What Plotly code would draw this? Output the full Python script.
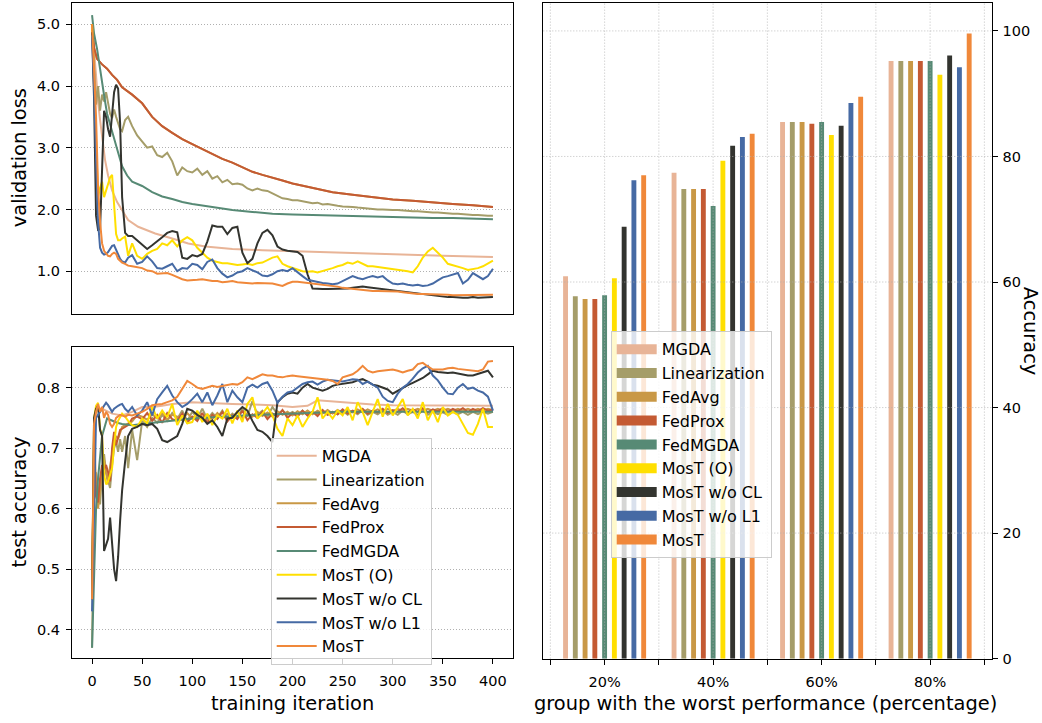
import plotly.graph_objects as go

# ---------------------------------------------------------------------------
# Methods, colours
# ---------------------------------------------------------------------------
METHODS = ["MGDA", "Linearization", "FedAvg", "FedProx", "FedMGDA",
           "MosT (O)", "MosT w/o CL", "MosT w/o L1", "MosT"]
COLORS = ["#e8b497", "#a59d69", "#c99846", "#c45a33", "#578a75",
          "#ffdf00", "#33342f", "#466aa4", "#f0883a"]

# ---------------------------------------------------------------------------
# Training curves (iteration grid shared by the noisier series)
# ---------------------------------------------------------------------------
ITERS = [0, 2, 4, 6, 8, 10, 12, 14, 16, 18, 20, 22, 24, 26, 28, 30, 33, 36] + list(range(40, 401, 5))

# validation loss
MGDA_LOSS_X = [0, 2, 4, 6, 8, 10, 13, 16, 20, 25, 30, 36, 46, 63, 80, 96, 113, 140, 170, 207, 250, 306, 350, 400]
MGDA_LOSS = [5.0, 4.6, 4.1, 3.75, 3.45, 3.15, 2.8, 2.55, 2.31, 2.12, 1.99, 1.83, 1.72, 1.61, 1.53, 1.45,
             1.40, 1.36, 1.34, 1.32, 1.30, 1.27, 1.25, 1.23]

LIN_LOSS = [5.0, 4.3, 3.7, 4.0, 3.6, 3.86, 3.75, 3.9, 3.75, 3.55, 3.48, 3.62, 3.5, 3.4, 3.3, 3.27, 3.45, 3.5,
            3.35, 3.2, 3.1, 3.0, 3.02, 2.88, 2.85, 2.92, 2.78, 2.55,
            2.68, 2.62, 2.6, 2.66, 2.56, 2.62, 2.5, 2.54, 2.44, 2.48,
            2.41, 2.42, 2.4, 2.34, 2.31, 2.34, 2.31, 2.3, 2.26, 2.22,
            2.18, 2.17, 2.15, 2.15, 2.13, 2.12, 2.1, 2.11, 2.08, 2.09,
            2.07, 2.06, 2.05, 2.05, 2.04, 2.03, 2.02, 2.01, 2.01, 2.0,
            2.0, 1.99, 1.99, 1.99, 1.98, 1.98, 1.97, 1.97, 1.96, 1.96,
            1.95, 1.95, 1.94, 1.94, 1.93, 1.93, 1.92, 1.91, 1.91, 1.91,
            1.9, 1.9, 1.9]

FEDPROX_LOSS_X = [0, 2, 5, 10, 15, 20, 25, 30, 40, 50, 60, 70, 80, 90, 100, 110, 120, 130, 140, 150, 160,
                  170, 180, 190, 200, 220, 240, 260, 280, 300, 320, 340, 360, 380, 400]
FEDPROX_LOSS = [5.0, 4.62, 4.44, 4.35, 4.28, 4.18, 4.1, 3.98, 3.86, 3.72, 3.5, 3.35, 3.24, 3.14, 3.06,
                2.98, 2.9, 2.82, 2.76, 2.68, 2.61, 2.56, 2.52, 2.47, 2.42, 2.35, 2.28, 2.24, 2.2, 2.16,
                2.14, 2.11, 2.09, 2.07, 2.04]
FEDAVG_LOSS_X = FEDPROX_LOSS_X
FEDAVG_LOSS = [5.0, 4.62, 4.44, 4.35, 4.28, 4.18, 4.1, 3.98, 3.86, 3.72, 3.5, 3.35, 3.24, 3.14, 3.06,
               2.98, 2.9, 2.82, 2.76, 2.68, 2.61, 2.56, 2.52, 2.47, 2.42, 2.35, 2.28, 2.24, 2.2, 2.16,
               2.14, 2.11, 2.09, 2.07, 2.04]

FEDMGDA_LOSS_X = [0, 2, 5, 8, 10, 12, 15, 20, 25, 30, 35, 40, 50, 60, 70, 80, 90, 100, 120, 140, 160, 180,
                  200, 220, 240, 260, 280, 300, 320, 340, 360, 380, 400]
FEDMGDA_LOSS = [5.15, 4.85, 4.6, 4.25, 4.07, 3.85, 3.55, 3.25, 2.98, 2.7, 2.55, 2.45, 2.38, 2.28, 2.21,
                2.17, 2.12, 2.09, 2.04, 1.99, 1.96, 1.93, 1.92, 1.91, 1.9, 1.89, 1.88, 1.88, 1.87, 1.86,
                1.86, 1.85, 1.84]

MOSTO_LOSS = [5.0, 4.0, 2.9, 2.2, 2.35, 2.45, 2.2, 2.3, 2.42, 2.52, 2.56, 1.99, 1.6, 1.5, 1.5, 1.53, 1.56, 1.25,
              1.45, 1.25, 1.2, 1.28, 1.33, 1.36, 1.45, 1.42, 1.5, 1.4,
              1.5, 1.55, 1.5, 1.38, 1.3, 1.22, 1.17, 1.15, 1.13, 1.13,
              1.12, 1.1, 1.11, 1.12, 1.1, 1.13, 1.14, 1.18, 1.22, 1.24,
              1.12, 1.08, 1.05, 1.02, 1.0, 0.99, 1.0, 0.98, 1.0, 1.03,
              1.05, 1.08, 1.1, 1.14, 1.12, 1.16, 1.12, 1.08, 1.08, 1.07,
              1.06, 1.05, 1.04, 1.03, 1.02, 1.0, 0.98, 1.08, 1.22, 1.32,
              1.38, 1.3, 1.22, 1.12, 1.1, 1.08, 1.05, 1.02, 1.03, 1.05,
              1.08, 1.12, 1.17]

WOCL_LOSS = [4.87, 3.8, 1.9, 1.67, 1.68, 2.8, 3.6, 3.5, 3.3, 3.18, 3.5, 3.9, 4.02, 3.96, 3.4, 2.2, 1.62, 1.57,
             1.57, 1.5, 1.42, 1.36, 1.42, 1.48, 1.55, 1.62, 1.65, 1.63,
             1.22, 1.2, 1.26, 1.24, 1.28, 1.48, 1.74, 1.72, 1.72, 1.6,
             1.7, 1.72, 1.3, 1.13, 1.2, 1.45, 1.62, 1.67, 1.58, 1.4,
             1.35, 1.33, 1.32, 1.31, 1.25, 0.95, 0.72, 0.71, 0.71, 0.71,
             0.71, 0.71, 0.72, 0.72, 0.73, 0.74, 0.75, 0.74, 0.73, 0.72,
             0.71, 0.7, 0.68, 0.67, 0.66, 0.65, 0.64, 0.63, 0.62, 0.62,
             0.6, 0.59, 0.58, 0.58, 0.58, 0.57, 0.57, 0.57, 0.58, 0.57,
             0.57, 0.57, 0.58]

WOL1_LOSS = [4.82, 4.0, 2.8, 1.8, 1.38, 1.3, 1.27, 1.28, 1.31, 1.36, 1.41, 1.42, 1.35, 1.26, 1.2, 1.16, 1.14, 1.22,
             1.26, 1.12, 1.15, 1.24, 1.16, 1.05, 1.04, 1.08, 1.12, 1.0,
             1.05, 1.04, 1.12, 1.1, 1.03, 1.15, 1.19, 1.05, 0.96, 0.9,
             0.93, 0.98, 1.0, 1.05, 1.02, 0.98, 0.93, 0.92, 0.95, 1.0,
             1.02, 1.0, 1.05, 0.98, 0.92, 0.86, 0.84, 0.83, 0.81, 0.8,
             0.79, 0.8, 0.84, 0.88, 0.92, 0.89, 0.87, 0.9, 0.92, 0.9,
             0.92, 0.85, 0.8, 0.79, 0.8, 0.78, 0.77, 0.78, 0.76, 0.77,
             0.8, 0.85, 0.9, 0.92, 0.95, 0.97, 0.8, 0.86, 0.97, 0.92,
             0.87, 0.92, 1.04]

MOST_LOSS = [5.0, 4.3, 3.5, 2.36, 1.8, 1.45, 1.33, 1.29, 1.25, 1.24, 1.28, 1.3, 1.28, 1.2, 1.17, 1.14, 1.12, 1.09,
             1.08, 1.06, 1.05, 1.01, 1.0, 0.96, 0.96, 0.97, 0.94, 0.9,
             0.87, 0.85, 0.85, 0.86, 0.87, 0.85, 0.84, 0.84, 0.82, 0.83,
             0.84, 0.82, 0.81, 0.81, 0.8, 0.81, 0.81, 0.8, 0.8, 0.78,
             0.76, 0.8, 0.83, 0.83, 0.82, 0.81, 0.81, 0.8, 0.79, 0.78,
             0.76, 0.75, 0.73, 0.72, 0.71, 0.71, 0.7, 0.69, 0.68, 0.68,
             0.68, 0.68, 0.68, 0.67, 0.66, 0.65, 0.63, 0.63, 0.63, 0.63,
             0.63, 0.62, 0.62, 0.62, 0.61, 0.61, 0.61, 0.61, 0.61, 0.62,
             0.62, 0.62, 0.62]

# test accuracy
MGDA_ACC_X = [0, 2, 4, 6, 10, 20, 30, 40, 50, 60, 70, 80, 100, 120, 140, 160, 180, 200, 215, 225, 240, 260,
              280, 300, 350, 400]
MGDA_ACC = [0.45, 0.72, 0.76, 0.765, 0.765, 0.757, 0.754, 0.76, 0.768, 0.768, 0.77, 0.773, 0.776, 0.774,
            0.773, 0.772, 0.771, 0.768, 0.77, 0.779, 0.777, 0.774, 0.772, 0.771, 0.771, 0.77]

LIN_ACC = [0.37, 0.65, 0.66, 0.63, 0.607, 0.66, 0.69, 0.66, 0.645, 0.634, 0.672, 0.7, 0.71, 0.694, 0.715, 0.694, 0.72, 0.667,
           0.73, 0.68, 0.745, 0.735, 0.75, 0.742, 0.755, 0.745, 0.758, 0.748,
           0.762, 0.745, 0.76, 0.75, 0.765, 0.748, 0.758, 0.75, 0.762, 0.748,
           0.757, 0.75, 0.765, 0.752, 0.778, 0.755, 0.762, 0.752, 0.768, 0.756,
           0.762, 0.755, 0.76, 0.755, 0.762, 0.754, 0.76, 0.756, 0.762, 0.755,
           0.76, 0.756, 0.762, 0.755, 0.761, 0.756, 0.763, 0.755, 0.76, 0.756,
           0.762, 0.755, 0.76, 0.755, 0.762, 0.756, 0.76, 0.755, 0.762, 0.755,
           0.76, 0.756, 0.759, 0.755, 0.76, 0.756, 0.76, 0.755, 0.76, 0.756,
           0.76, 0.757, 0.76]

FEDAVG_ACC = [0.45, 0.72, 0.64, 0.6, 0.63, 0.66, 0.68, 0.66, 0.64, 0.67, 0.69, 0.71, 0.72, 0.715, 0.725, 0.735, 0.738, 0.74,
              0.744, 0.755, 0.752, 0.747, 0.756, 0.749, 0.758, 0.747, 0.755, 0.752,
              0.746, 0.758, 0.749, 0.757, 0.75, 0.755, 0.748, 0.758, 0.75, 0.757,
              0.752, 0.759, 0.75, 0.758, 0.752, 0.76, 0.753, 0.759, 0.752, 0.761,
              0.755, 0.76, 0.754, 0.761, 0.756, 0.762, 0.756, 0.762, 0.757, 0.763,
              0.757, 0.763, 0.758, 0.763, 0.759, 0.764, 0.759, 0.764, 0.76, 0.764,
              0.76, 0.765, 0.761, 0.765, 0.761, 0.765, 0.762, 0.765, 0.762, 0.765,
              0.762, 0.765, 0.762, 0.765, 0.762, 0.765, 0.762, 0.765, 0.762, 0.765,
              0.762, 0.765, 0.763]

FEDPROX_ACC = [0.45, 0.7, 0.62, 0.61, 0.65, 0.672, 0.665, 0.672, 0.66, 0.645, 0.7, 0.727, 0.705, 0.72, 0.73, 0.732, 0.735, 0.738,
               0.749, 0.752, 0.748, 0.758, 0.745, 0.755, 0.742, 0.758, 0.748, 0.745,
               0.757, 0.742, 0.752, 0.745, 0.758, 0.742, 0.755, 0.748, 0.76, 0.744,
               0.754, 0.748, 0.762, 0.746, 0.756, 0.75, 0.76, 0.748, 0.757, 0.752,
               0.763, 0.75, 0.758, 0.752, 0.762, 0.754, 0.76, 0.753, 0.763, 0.755,
               0.76, 0.756, 0.764, 0.757, 0.762, 0.758, 0.765, 0.757, 0.762, 0.759,
               0.765, 0.758, 0.763, 0.76, 0.766, 0.759, 0.764, 0.76, 0.766, 0.759,
               0.764, 0.761, 0.766, 0.76, 0.765, 0.761, 0.766, 0.76, 0.765, 0.761,
               0.766, 0.762, 0.764]

FEDMGDA_ACC_X = [0, 2, 4, 6, 8, 10, 15, 20, 25, 30, 40, 50, 60, 80, 100, 150, 200, 250, 300, 350, 400]
FEDMGDA_ACC = [0.37, 0.5, 0.6, 0.65, 0.69, 0.72, 0.749, 0.745, 0.742, 0.74, 0.738, 0.74, 0.742, 0.745,
               0.749, 0.754, 0.757, 0.76, 0.76, 0.76, 0.76]

MOSTO_ACC = [0.45, 0.75, 0.77, 0.775, 0.732, 0.72, 0.656, 0.64, 0.645, 0.655, 0.667, 0.705, 0.735, 0.745, 0.75, 0.757, 0.752, 0.745,
             0.738, 0.735, 0.749, 0.741, 0.768, 0.749, 0.762, 0.751, 0.773, 0.738,
             0.754, 0.741, 0.743, 0.762, 0.743, 0.757, 0.738, 0.754, 0.749, 0.765,
             0.741, 0.762, 0.743, 0.773, 0.784, 0.749, 0.757, 0.768, 0.754, 0.732,
             0.72, 0.749, 0.738, 0.754, 0.735, 0.749, 0.76, 0.784, 0.749, 0.76,
             0.749, 0.762, 0.754, 0.768, 0.746, 0.776, 0.76, 0.738, 0.76, 0.781,
             0.752, 0.773, 0.754, 0.768, 0.781, 0.754, 0.765, 0.749, 0.776, 0.746,
             0.762, 0.743, 0.768, 0.754, 0.76, 0.755, 0.74, 0.725, 0.722, 0.74,
             0.765, 0.735, 0.735]

WOCL_ACC = [0.45, 0.75, 0.765, 0.77, 0.73, 0.72, 0.53, 0.54, 0.55, 0.585, 0.54, 0.5, 0.48, 0.52, 0.58, 0.63, 0.678, 0.72,
            0.732, 0.735, 0.74, 0.738, 0.74, 0.732, 0.713, 0.71, 0.715, 0.72,
            0.74, 0.765, 0.762, 0.755, 0.75, 0.74, 0.746, 0.735, 0.72, 0.749,
            0.75, 0.76, 0.768, 0.762, 0.745, 0.73, 0.727, 0.72, 0.71, 0.776,
            0.784, 0.79, 0.792, 0.79, 0.8, 0.806, 0.8, 0.798, 0.795, 0.798,
            0.803, 0.805, 0.806, 0.808, 0.809, 0.812, 0.814, 0.81, 0.805, 0.803,
            0.8, 0.797, 0.79, 0.795, 0.8, 0.804, 0.808, 0.812, 0.816, 0.822,
            0.828, 0.826, 0.825, 0.824, 0.825, 0.823, 0.822, 0.82, 0.82, 0.823,
            0.825, 0.828, 0.817]

WOL1_ACC = [0.43, 0.6, 0.75, 0.755, 0.76, 0.765, 0.77, 0.775, 0.771, 0.765, 0.76, 0.765, 0.768, 0.77, 0.772, 0.773, 0.765, 0.76,
            0.768, 0.754, 0.762, 0.776, 0.754, 0.781, 0.792, 0.803, 0.787, 0.776,
            0.768, 0.773, 0.781, 0.79, 0.776, 0.792, 0.771, 0.787, 0.806, 0.776,
            0.795, 0.784, 0.776, 0.8, 0.805, 0.8, 0.806, 0.809, 0.795, 0.775,
            0.785, 0.792, 0.794, 0.8, 0.806, 0.809, 0.81, 0.805, 0.81, 0.813,
            0.812, 0.81, 0.81, 0.812, 0.814, 0.813, 0.806, 0.81, 0.805, 0.8,
            0.785, 0.778, 0.776, 0.79, 0.8, 0.806, 0.815, 0.825, 0.832, 0.836,
            0.82, 0.812, 0.8, 0.79, 0.789, 0.8, 0.806, 0.798, 0.8, 0.795,
            0.792, 0.785, 0.762]

MOST_ACC = [0.45, 0.74, 0.76, 0.773, 0.76, 0.768, 0.75, 0.76, 0.755, 0.74, 0.735, 0.74, 0.75, 0.752, 0.755, 0.754, 0.752, 0.755,
            0.754, 0.757, 0.76, 0.765, 0.771, 0.772, 0.773, 0.776, 0.779, 0.785,
            0.798, 0.811, 0.806, 0.8, 0.798, 0.8, 0.803, 0.801, 0.803, 0.805,
            0.806, 0.805, 0.809, 0.817, 0.814, 0.818, 0.822, 0.82, 0.82, 0.818,
            0.817, 0.819, 0.82, 0.819, 0.818, 0.817, 0.817, 0.816, 0.815, 0.813,
            0.811, 0.806, 0.817, 0.82, 0.822, 0.828, 0.836, 0.828, 0.825, 0.827,
            0.828, 0.829, 0.83, 0.828, 0.825, 0.828, 0.83, 0.839, 0.841, 0.835,
            0.83, 0.83, 0.83, 0.832, 0.833, 0.831, 0.83, 0.829, 0.828, 0.827,
            0.83, 0.843, 0.844]

LOSS_SERIES = [(MGDA_LOSS_X, MGDA_LOSS), (ITERS, LIN_LOSS), (FEDAVG_LOSS_X, FEDAVG_LOSS),
               (FEDPROX_LOSS_X, FEDPROX_LOSS), (FEDMGDA_LOSS_X, FEDMGDA_LOSS), (ITERS, MOSTO_LOSS),
               (ITERS, WOCL_LOSS), (ITERS, WOL1_LOSS), (ITERS, MOST_LOSS)]
ACC_SERIES = [(MGDA_ACC_X, MGDA_ACC), (ITERS, LIN_ACC), (ITERS, FEDAVG_ACC), (ITERS, FEDPROX_ACC),
              (FEDMGDA_ACC_X, FEDMGDA_ACC), (ITERS, MOSTO_ACC), (ITERS, WOCL_ACC), (ITERS, WOL1_ACC),
              (ITERS, MOST_ACC)]

for xs, ys in LOSS_SERIES + ACC_SERIES:
    if len(xs) != len(ys):
        raise ValueError(f"series length mismatch: {len(xs)} vs {len(ys)}")

# ---------------------------------------------------------------------------
# Worst-group accuracy (%) per group share
# ---------------------------------------------------------------------------
GROUPS = [20, 40, 60, 80]
GROUP_LABELS = ["20%", "40%", "60%", "80%"]
BAR_ACC = {
    "MGDA":          [60.9, 77.4, 85.5, 95.2],
    "Linearization": [57.75, 74.8, 85.5, 95.2],
    "FedAvg":        [57.3, 74.8, 85.5, 95.2],
    "FedProx":       [57.3, 74.8, 85.2, 95.2],
    "FedMGDA":       [57.9, 72.1, 85.5, 95.2],
    "MosT (O)":      [60.6, 79.3, 83.4, 93.0],
    "MosT w/o CL":   [68.8, 81.7, 84.9, 96.1],
    "MosT w/o L1":   [76.2, 83.1, 88.5, 94.2],
    "MosT":          [77.0, 83.6, 89.5, 99.6],
}
BAR_STEP = 1.8
BAR_WIDTH = 0.9

# ---------------------------------------------------------------------------
# Figure
# ---------------------------------------------------------------------------
W, H = 1042, 723
FONT = "DejaVu Sans"
GRID = "#b0b0b0"
DOT = "1px,2px"
LINE_W = 2.0


def px_x(v):
    return v / W


def px_y(v):
    return 1 - v / H


fig = go.Figure()

for name, color, (lx, ly), (ax, ay) in zip(METHODS, COLORS, LOSS_SERIES, ACC_SERIES):
    fig.add_trace(go.Scatter(x=lx, y=ly, mode="lines", line=dict(color=color, width=LINE_W),
                             xaxis="x", yaxis="y", showlegend=False, hoverinfo="skip"))
    fig.add_trace(go.Scatter(x=ax, y=ay, mode="lines", line=dict(color=color, width=LINE_W),
                             xaxis="x2", yaxis="y2", name=name, legend="legend"))

n = len(METHODS)
for i, (name, color) in enumerate(zip(METHODS, COLORS)):
    offset = (i - (n - 1) / 2) * BAR_STEP
    fig.add_trace(go.Bar(x=[g + offset for g in GROUPS], y=BAR_ACC[name], width=BAR_WIDTH,
                         marker=dict(color=color, line=dict(width=0)),
                         xaxis="x3", yaxis="y3", showlegend=False, name=name))
    # legend swatch for the bar panel
    fig.add_trace(go.Scatter(x=[None], y=[None], mode="lines", line=dict(color=color, width=12),
                             xaxis="x3", yaxis="y3", name=name, legend="legend2"))

# grid of the bar panel is drawn on top of the bars
shapes = []
for v in range(10, 91, 10):
    shapes.append(dict(type="line", xref="x3", yref="y3 domain", x0=v, x1=v, y0=0, y1=1,
                       line=dict(color=GRID, width=0.8, dash=DOT), layer="above"))
for v in range(20, 101, 20):
    shapes.append(dict(type="line", xref="x3 domain", yref="y3", x0=0, x1=1, y0=v, y1=v,
                       line=dict(color=GRID, width=0.8, dash=DOT), layer="above"))

tick_font = dict(family=FONT, size=14.5, color="#000")
frame = dict(showline=True, mirror=True, linecolor="#000", linewidth=1, zeroline=False,
             tickfont=tick_font, tickcolor="#000", ticklen=5)

left_dom = [px_x(72), px_x(513)]
legend_style = dict(xanchor="left", yanchor="top", bgcolor="rgba(255,255,255,0.8)",
                    bordercolor="#cccccc", borderwidth=1, itemwidth=40,
                    font=dict(family=FONT, size=16, color="#000"), tracegroupgap=0)
fig.update_layout(
    width=W, height=H, margin=dict(l=0, r=0, t=0, b=0), autosize=False,
    paper_bgcolor="white", plot_bgcolor="white", barmode="overlay",
    font=dict(family=FONT, color="#000"),
    xaxis=dict(domain=left_dom, anchor="y", range=[-20, 420], showticklabels=False, ticks="",
               showgrid=False, **frame),
    yaxis=dict(domain=[px_y(317.3), px_y(2.7)], anchor="x", range=[0.31, 5.35],
               tickvals=[1, 2, 3, 4, 5], tickformat=".1f", ticks="outside", ticklabelstandoff=3,
               showgrid=True, gridcolor=GRID, gridwidth=0.8, griddash=DOT, **frame),
    xaxis2=dict(domain=left_dom, anchor="y2", range=[-20, 420], tickvals=list(range(0, 401, 50)),
                ticks="outside", ticklabelstandoff=5, showgrid=False, **frame),
    yaxis2=dict(domain=[px_y(665.3), px_y(351)], anchor="x2", range=[0.353, 0.867],
                tickvals=[0.4, 0.5, 0.6, 0.7, 0.8], tickformat=".1f", ticks="outside",
                ticklabelstandoff=3,
                showgrid=True, gridcolor=GRID, gridwidth=0.8, griddash=DOT, **frame),
    xaxis3=dict(domain=[px_x(543.3), px_x(991.7)], anchor="y3", range=[8.7, 91.35],
                tickvals=list(range(10, 91, 10)),
                ticktext=["", GROUP_LABELS[0], "", GROUP_LABELS[1], "", GROUP_LABELS[2], "",
                          GROUP_LABELS[3], ""],
                ticks="outside", ticklabelstandoff=5, showgrid=False, **frame),
    yaxis3=dict(domain=[px_y(666), px_y(2.7)], anchor="x3", side="right", range=[0, 104.5],
                tickvals=list(range(0, 101, 20)), ticks="outside", ticklabelstandoff=2,
                showgrid=False, **frame),
    shapes=shapes,
    legend=dict(x=px_x(270.7), y=px_y(442.7), **legend_style),
    legend2=dict(x=px_x(610.7), y=px_y(335), **legend_style),
)

label_font = dict(family=FONT, size=19.4, color="#000")
annotations = [
    dict(text="validation loss", x=px_x(19), y=px_y(160), textangle=-90),
    dict(text="test accuracy", x=px_x(19), y=px_y(508), textangle=-90),
    dict(text="training iteration", x=px_x(292.5), y=px_y(711), textangle=0),
    dict(text="group with the worst performance (percentage)", x=px_x(765), y=px_y(711), textangle=0),
    dict(text="Accuracy", x=px_x(1030), y=px_y(334.5), textangle=90),
]
for a in annotations:
    fig.add_annotation(xref="paper", yref="paper", showarrow=False, xanchor="center",
                       yanchor="middle", font=label_font, borderpad=0, **a)

fig.write_html("out.html")
